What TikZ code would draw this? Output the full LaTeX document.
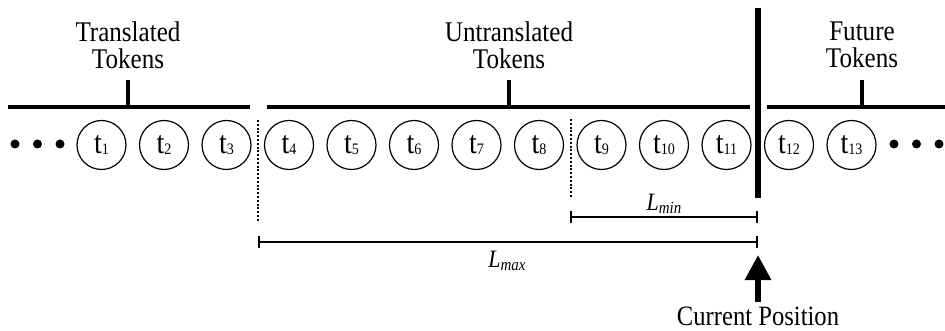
\documentclass[tikz,border=0pt]{standalone}
\usepackage{fontspec}
\setmainfont[FakeStretch=0.88]{Liberation Serif}
\usetikzlibrary{arrows.meta}
\newcommand{\tk}[1]{t\raisebox{-0.03em}{\fontsize{16}{16}\selectfont #1}}
\newcommand{\Lsub}[1]{\textit{L}\raisebox{-0.12em}{\fontsize{17}{17}\selectfont\itshape #1}}
\begin{document}
\begin{tikzpicture}[x=1pt,y=-1pt,
  tok/.style={circle,draw,line width=1.2pt,minimum size=49pt,inner sep=0pt,font=\fontsize{32}{32}\selectfont},
  bigdot/.style={circle,fill,minimum size=9pt,inner sep=0pt},
  lbl/.style={align=center,inner sep=0pt,font=\fontsize{28.5}{26.5}\selectfont},
  cplbl/.style={inner sep=0pt,font=\fontsize{28}{28}\selectfont},
  bar/.style={line width=4.5pt},
  sep/.style={line width=5.5pt},
  dotl/.style={line width=2pt,dash pattern=on 2pt off 1.8pt},
  meas/.style={line width=2pt,{Bar[width=12pt,line width=2pt]}-{Bar[width=12pt,line width=2pt]}},
  mlbl/.style={inner sep=0pt,font=\fontsize{25}{25}\selectfont}]
\useasboundingbox (0,0) rectangle (945,331);
% dots
\node[bigdot] (dl1) at (15,144) {};
\node[bigdot] (dl2) at (37.5,144) {};
\node[bigdot] (dl3) at (60,144) {};
\node[bigdot] (dr1) at (894,144) {};
\node[bigdot] (dr2) at (916.5,144) {};
\node[bigdot] (dr3) at (939,144) {};
% tokens
\foreach \i in {1,...,13} {
  \node[tok] (t\i) at ({101.5+(\i-1)*62.5},145) {\tk{\i}};
}
% bars
\coordinate (b1l) at (8,107); \coordinate (b1r) at (250,107);
\coordinate (b1m) at (128,107); \coordinate (b1t) at (128,80);
\coordinate (b2l) at (267,107); \coordinate (b2r) at (750,107);
\coordinate (b2m) at (509,107); \coordinate (b2t) at (509,80);
\coordinate (b3l) at (767,107); \coordinate (b3r) at (945,107);
\coordinate (b3m) at (862,107); \coordinate (b3t) at (862,80);
\draw[bar] (b1l) -- (b1r); \draw[bar] (b1m) -- (b1t);
\draw[bar] (b2l) -- (b2r); \draw[bar] (b2m) -- (b2t);
\draw[bar] (b3l) -- (b3r); \draw[bar] (b3m) -- (b3t);
% labels
\node[lbl,anchor=north] (lt) at (128,22) {Translated\\Tokens};
\node[lbl,anchor=north] (lu) at (509,22) {Untranslated\\Tokens};
\node[lbl,anchor=north] (lf) at (862,22) {Future\\Tokens};
% current position separator
\coordinate (st) at (758,8); \coordinate (sb) at (758,198);
\draw[sep] (st) -- (sb);
% dotted lines
\coordinate (d1t) at (258,120); \coordinate (d1b) at (258,222);
\coordinate (d2t) at (571,119); \coordinate (d2b) at (571,198);
\draw[dotl] (d1t) -- (d1b);
\draw[dotl] (d2t) -- (d2b);
% measures
\coordinate (mnl) at (570,217); \coordinate (mnr) at (758,217);
\coordinate (mxl) at (258,242); \coordinate (mxr) at (758,242);
\draw[meas] (mnl) -- (mnr);
\draw[meas] (mxl) -- (mxr);
\node[mlbl,anchor=base] (lmin) at (664,210.5) {\Lsub{min}};
\node[mlbl,anchor=base] (lmax) at (507,267) {\Lsub{max}};
% arrow
\node[cplbl,anchor=base] (cp) at (758,325.5) {Current Position};
\coordinate (ab) at (758,302); \coordinate (at) at (758,255);
\draw[line width=6pt,-{Triangle[width=25pt,length=25pt]}] (ab) -- (at);
\end{tikzpicture}
\end{document}
